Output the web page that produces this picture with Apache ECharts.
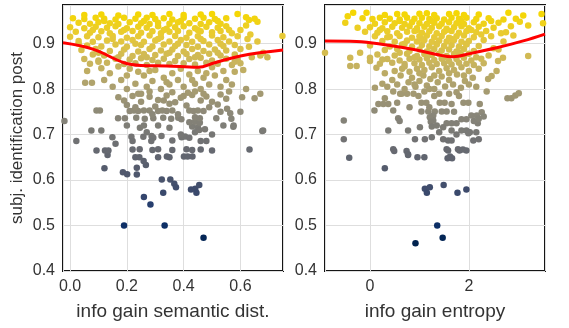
<!DOCTYPE html>
<html>
<head>
<meta charset="utf-8">
<script src="https://cdn.jsdelivr.net/npm/echarts@6/dist/echarts.min.js"></script>
<style>
html,body{margin:0;padding:0;background:#fff;}
#chart{width:569px;height:328px;}
</style>
</head>
<body>
<div id="chart"></div>
<script>
// ---- data ----
const semanticPoints = [
[0.19,0.50],[0.333,0.50],[0.47,0.473],[0.26,0.563],[0.283,0.546],[0.328,0.572],[0.323,0.601],[0.353,0.601],[0.367,0.592],[0.373,0.584],
[0.426,0.579],[0.441,0.581],[0.445,0.572],[0.455,0.589],[0.186,0.617],[0.201,0.613],[0.121,0.626],[0.235,0.612],[0.235,0.627],[0.267,0.633],
[0.259,0.642],[0.23,0.65],[0.244,0.65],[0.31,0.65],[0.341,0.652],[0.35,0.65],[0.401,0.652],[0.414,0.652],[0.431,0.652],[0.132,0.655],
[0.093,0.665],[0.123,0.665],[0.135,0.665],[0.5,0.665],[0.632,0.667],
[0.22,0.667],[0.245,0.668],[0.29,0.666],[0.31,0.668],[0.36,0.666],[0.41,0.668],[0.43,0.666],[0.46,0.667],
[0.022,0.686],[-0.02,0.73],[0.075,0.709],[0.11,0.709],[0.149,0.694],
[0.216,0.695],[0.258,0.695],[0.287,0.697],[0.293,0.693],[0.322,0.697],[0.393,0.694],[0.405,0.696],[0.42,0.693],
[0.22,0.686],[0.286,0.686],[0.36,0.687],[0.46,0.686],[0.48,0.686],[0.677,0.708],
[0.246,0.715],[0.26,0.72],[0.43,0.718],[0.45,0.716],[0.475,0.712],[0.575,0.717],[0.68,0.709],[0.44,0.705],[0.455,0.71],
[0.42,0.727],[0.44,0.728],[0.457,0.726],
[0.169,0.736],[0.193,0.736],[0.233,0.737],[0.263,0.735],[0.293,0.736],[0.328,0.737],[0.356,0.735],[0.381,0.737],[0.392,0.734],[0.44,0.738],
[0.457,0.736],[0.515,0.736],[0.568,0.735],[0.54,0.72],[0.576,0.72],
[0.093,0.753],[0.105,0.753],[0.21,0.752],[0.225,0.753],[0.24,0.752],[0.26,0.753],[0.28,0.753],[0.31,0.752],[0.325,0.753],[0.34,0.752],
[0.36,0.753],[0.42,0.753],[0.435,0.752],[0.45,0.753],[0.47,0.752],[0.553,0.757],[0.564,0.747],
[0.17,0.782],[0.19,0.775],[0.22,0.785],[0.25,0.772],[0.28,0.783],[0.31,0.776],[0.34,0.786],[0.37,0.771],[0.39,0.781],[0.43,0.787],
[0.46,0.775],[0.48,0.784],[0.5,0.772],[0.53,0.788],[0.55,0.779],[0.606,0.782],[0.65,0.78],[0.67,0.79],[0.2,0.765],[0.3,0.762],
[0.35,0.768],[0.41,0.764],[0.52,0.766],[0.24,0.79],[0.36,0.793],[0.44,0.795],
[0.053,0.814],[0.077,0.814],[0.06,0.84],
[0.15,0.805],[0.18,0.82],[0.2,0.80],[0.23,0.812],[0.26,0.83],[0.27,0.805],[0.29,0.818],[0.32,0.8],[0.33,0.825],[0.35,0.81],
[0.38,0.82],[0.4,0.805],[0.42,0.832],[0.44,0.812],[0.46,0.8],[0.47,0.825],[0.49,0.81],[0.51,0.83],[0.53,0.805],[0.55,0.82],
[0.57,0.81],[0.14,0.835],[0.21,0.845],[0.24,0.838],[0.3,0.842],[0.36,0.835],[0.39,0.845],[0.45,0.84],[0.5,0.848],[0.54,0.84],
[0.58,0.838],[0.61,0.842],[0.11,0.846],[0.17,0.85],[0.12,0.82],[0.28,0.795],[0.415,0.792],[0.56,0.795],
[0.07,0.856],[0.13,0.858],[0.19,0.855],[0.23,0.857],[0.27,0.853],[0.31,0.858],[0.35,0.855],[0.4,0.857],[0.44,0.854],[0.48,0.858],[0.52,0.856],[0.57,0.853],[0.6,0.857],
[0.05,0.866],[0.1,0.863],[0.16,0.867],[0.21,0.865],[0.25,0.868],[0.29,0.864],[0.33,0.867],[0.37,0.862],[0.42,0.866],[0.46,0.869],[0.5,0.863],[0.55,0.867],[0.59,0.865],[0.67,0.874],[0.695,0.87],
[0.08,0.876],[0.12,0.874],[0.18,0.878],[0.22,0.873],[0.26,0.877],[0.3,0.875],[0.34,0.878],[0.38,0.873],[0.41,0.877],[0.45,0.875],[0.49,0.878],[0.53,0.874],[0.58,0.876],[0.68,0.88],
[0.04,0.886],[0.09,0.888],[0.14,0.884],[0.19,0.887],[0.24,0.883],[0.28,0.888],[0.32,0.885],[0.36,0.887],[0.4,0.883],[0.43,0.888],[0.47,0.884],[0.51,0.887],[0.55,0.885],[0.6,0.888],
[0.06,0.896],[0.11,0.894],[0.16,0.898],[0.2,0.893],[0.25,0.897],[0.29,0.894],[0.33,0.898],[0.37,0.895],[0.41,0.897],[0.45,0.893],[0.49,0.898],[0.54,0.895],[0.58,0.897],[0.63,0.893],
[0.03,0.906],[0.08,0.904],[0.13,0.907],[0.18,0.905],[0.22,0.908],[0.26,0.904],[0.3,0.907],[0.35,0.905],[0.39,0.908],[0.43,0.904],[0.47,0.906],[0.52,0.908],[0.56,0.905],[0.625,0.91],
[0.06,0.916],[0.1,0.914],[0.15,0.917],[0.2,0.913],[0.24,0.916],[0.28,0.918],[0.32,0.914],[0.37,0.917],[0.41,0.913],[0.45,0.916],[0.5,0.918],[0.54,0.914],[0.59,0.916],[0.635,0.92],[0.748,0.917],
[0.02,0.926],[0.07,0.924],[0.11,0.927],[0.14,0.923],[0.18,0.926],[0.22,0.928],[0.25,0.924],[0.29,0.927],[0.32,0.923],[0.35,0.926],[0.38,0.928],[0.42,0.924],[0.46,0.927],[0.5,0.925],[0.53,0.928],[0.57,0.923],
[0.0,0.936],[0.05,0.934],[0.09,0.937],[0.13,0.935],[0.16,0.938],[0.2,0.934],[0.24,0.937],[0.27,0.935],[0.31,0.938],[0.34,0.933],[0.37,0.936],[0.4,0.938],[0.44,0.934],[0.48,0.937],[0.52,0.935],[0.55,0.938],
[0.03,0.946],[0.07,0.944],[0.1,0.947],[0.14,0.945],[0.17,0.943],[0.21,0.947],[0.25,0.945],[0.28,0.943],[0.31,0.946],[0.35,0.944],[0.38,0.947],[0.42,0.945],[0.46,0.943],[0.49,0.947],[0.53,0.944],[0.63,0.952],[0.66,0.948],
[0.01,0.956],[0.05,0.954],[0.09,0.957],[0.12,0.955],[0.16,0.953],[0.19,0.957],[0.23,0.955],[0.27,0.957],[0.3,0.954],[0.33,0.956],[0.36,0.953],[0.4,0.957],[0.44,0.955],[0.47,0.957],[0.51,0.954],[0.55,0.956],[0.62,0.958],[0.65,0.955],
[0.05,0.963],[0.11,0.964],[0.17,0.962],[0.24,0.964],[0.29,0.963],[0.35,0.965],[0.4,0.963],[0.46,0.964],[0.5,0.965],[0.59,0.965],
[0.08,0.93],[0.12,0.95],[0.19,0.93],[0.26,0.95],[0.33,0.93],[0.39,0.95],[0.45,0.93],[0.52,0.95],[0.56,0.93],[0.15,0.91],
[0.23,0.9],[0.31,0.91],[0.38,0.9],[0.46,0.91],[0.53,0.9],[0.1,0.88],[0.17,0.87],[0.27,0.87],[0.35,0.88],[0.44,0.87],
[0.52,0.88],[0.2,0.83],[0.28,0.84],[0.34,0.815],[0.43,0.82],[0.48,0.835],[0.25,0.79],[0.33,0.775],[0.4,0.785],[0.47,0.79],
[0.23,0.76],[0.29,0.745],[0.38,0.745],[0.49,0.76],[0.31,0.72],[0.35,0.715],[0.39,0.7],[0.27,0.705],[0.2,0.72],[0.16,0.68],
[0.5,0.7],[0.53,0.75],[0.6,0.75],[0.62,0.8],[0.58,0.86],[0.64,0.87],[0.66,0.905],[0.6,0.93],[0.62,0.94],[0.03,0.9],[0.0,0.915],[0.1,0.86]
];

const entropyPoints = [
[0.92,0.461],[1.36,0.50],[1.47,0.473],[1.11,0.581],[1.15,0.572],[1.21,0.584],[1.49,0.589],[1.77,0.572],[1.95,0.579],[0.30,0.626],
[-0.42,0.649],[0.77,0.655],[0.96,0.65],[1.10,0.65],[1.57,0.648],[1.62,0.652],[1.66,0.648],[0.49,0.664],[0.74,0.664],[1.58,0.665],[1.81,0.665],[1.95,0.665],
[-0.53,0.731],[-0.53,0.69],[0.09,0.753],[0.17,0.767],[0.27,0.767],[0.37,0.767],[0.47,0.753],[0.57,0.736],[0.37,0.709],[0.77,0.709],
[0.47,0.668],[0.77,0.657],[0.91,0.69],[1.11,0.69],[1.01,0.716],[1.25,0.694],[1.04,0.751],[1.18,0.751],[1.31,0.751],[1.45,0.751],
[1.55,0.751],[1.28,0.742],[1.28,0.731],[1.55,0.725],[1.65,0.725],[1.75,0.725],[1.85,0.734],[1.95,0.734],[2.05,0.742],[2.16,0.742],
[2.26,0.749],[1.48,0.69],[1.58,0.687],[1.65,0.687],[1.55,0.668],[1.78,0.668],[1.65,0.709],[1.85,0.709],[1.95,0.709],[1.99,0.703],
[2.02,0.705],[2.09,0.687],[2.18,0.725],[2.78,0.78],[2.86,0.78],[2.94,0.786],[3.01,0.791],[2.36,0.795],[2.22,0.767],[1.89,0.77],
[1.99,0.77],[1.65,0.767],[1.75,0.793],[1.04,0.77],[1.14,0.77],[1.41,0.77],[1.51,0.77],[0.61,0.79],[0.75,0.79],[0.88,0.79],
[0.47,0.795],[0.64,0.79],[1.21,0.738],[1.23,0.728],[1.25,0.718],[1.48,0.716],[2.1,0.73],[2.2,0.735],[2.3,0.74],[2.0,0.705],
[2.15,0.705],[2.2,0.69],[1.88,0.667],
[0.1,0.803],[0.25,0.812],[0.35,0.805],[0.45,0.82],[0.55,0.81],[0.62,0.83],[0.7,0.8],[0.78,0.815],[0.85,0.825],[0.92,0.805],
[1.0,0.818],[1.08,0.83],[1.15,0.808],[1.22,0.822],[1.3,0.8],[1.37,0.815],[1.45,0.828],[1.52,0.806],[1.6,0.82],[1.68,0.81],
[1.76,0.832],[1.84,0.803],[1.92,0.818],[2.0,0.81],[2.08,0.825],[2.15,0.805],[2.39,0.822],[2.46,0.829],[0.5,0.84],
[0.65,0.845],[0.8,0.838],[0.95,0.845],[1.1,0.842],[1.25,0.848],[1.4,0.84],[1.55,0.846],[1.7,0.842],[1.85,0.848],[2.0,0.84],
[2.2,0.845],[2.56,0.84],[0.3,0.835],[-0.4,0.851],[-0.27,0.851],[0.13,0.847],[0.0,0.862],[0.0,0.869],[-0.4,0.869],[-0.91,0.88],
[1.1,0.795],[1.3,0.785],[0.98,0.785],[1.6,0.79],
[0.2,0.856],[0.45,0.858],[0.7,0.855],[0.9,0.857],[1.05,0.853],[1.2,0.858],[1.35,0.855],[1.5,0.857],[1.65,0.854],[1.8,0.858],[1.95,0.856],[2.1,0.853],[2.3,0.857],
[0.35,0.866],[0.6,0.863],[0.8,0.867],[1.0,0.865],[1.15,0.868],[1.3,0.864],[1.45,0.867],[1.6,0.862],[1.75,0.866],[1.9,0.869],[2.05,0.863],[2.25,0.867],[2.59,0.862],[2.69,0.869],[3.2,0.873],
[0.15,0.876],[0.5,0.874],[0.75,0.878],[0.95,0.873],[1.1,0.877],[1.25,0.875],[1.4,0.878],[1.55,0.873],[1.7,0.877],[1.85,0.875],[2.0,0.878],[2.4,0.874],
[0.3,0.886],[0.55,0.888],[0.8,0.884],[1.0,0.887],[1.15,0.883],[1.3,0.888],[1.45,0.885],[1.6,0.887],[1.75,0.883],[1.9,0.888],[2.1,0.884],[2.6,0.887],
[0.0,0.896],[0.4,0.894],[0.65,0.898],[0.85,0.893],[1.05,0.897],[1.2,0.894],[1.35,0.898],[1.5,0.895],[1.65,0.897],[1.8,0.893],[1.95,0.898],[2.2,0.895],
[0.25,0.906],[0.5,0.904],[0.75,0.907],[0.95,0.905],[1.1,0.908],[1.25,0.904],[1.4,0.907],[1.55,0.905],[1.7,0.908],[1.85,0.904],[2.0,0.906],[2.3,0.908],[2.7,0.905],
[0.1,0.916],[0.35,0.914],[0.6,0.917],[0.85,0.913],[1.0,0.916],[1.15,0.918],[1.3,0.914],[1.45,0.917],[1.6,0.913],[1.75,0.916],[1.9,0.918],[2.1,0.914],[2.45,0.916],[2.9,0.918],
[-0.1,0.926],[0.15,0.924],[0.35,0.927],[0.55,0.923],[0.75,0.926],[0.9,0.928],[1.05,0.924],[1.2,0.927],[1.35,0.923],[1.5,0.926],[1.65,0.928],[1.8,0.924],[1.95,0.927],[2.15,0.925],[2.35,0.928],[2.65,0.923],
[0.0,0.936],[0.25,0.934],[0.45,0.937],[0.65,0.935],[0.8,0.938],[0.95,0.934],[1.1,0.937],[1.25,0.935],[1.4,0.938],[1.55,0.933],[1.7,0.936],[1.85,0.938],[2.0,0.934],[2.2,0.937],[2.5,0.935],[2.85,0.938],[-0.25,0.935],
[-0.5,0.946],[0.1,0.944],[0.3,0.947],[0.5,0.945],[0.7,0.943],[0.85,0.947],[1.0,0.945],[1.15,0.943],[1.3,0.946],[1.45,0.944],[1.6,0.947],[1.75,0.945],[1.9,0.943],[2.1,0.947],[2.3,0.944],[2.6,0.946],[3.03,0.948],[3.5,0.945],
[-0.15,0.956],[0.05,0.954],[0.2,0.957],[0.4,0.955],[0.6,0.953],[0.75,0.957],[0.9,0.955],[1.05,0.957],[1.2,0.954],[1.35,0.956],[1.5,0.953],[1.65,0.957],[1.8,0.955],[1.95,0.957],[2.15,0.954],[2.4,0.956],[2.7,0.953],[3.1,0.962],
[-0.34,0.968],[-0.07,0.968],[0.3,0.963],[0.7,0.964],[1.0,0.966],[1.3,0.963],[1.6,0.965],[1.9,0.963],[2.2,0.964],[2.8,0.968],[3.47,0.965],
[0.2,0.93],[0.6,0.95],[0.95,0.93],[1.25,0.95],[1.55,0.93],[1.85,0.95],[2.05,0.93],[2.45,0.95],[0.4,0.915],[0.7,0.9],
[1.05,0.91],[1.35,0.9],[1.65,0.91],[1.95,0.9],[2.25,0.92],[0.6,0.88],[0.9,0.87],[1.2,0.88],[1.5,0.87],[1.8,0.88],
[2.15,0.87],[0.7,0.85],[1.0,0.835],[1.3,0.83],[1.6,0.835],[1.9,0.83],[0.9,0.81],[1.2,0.8],[1.4,0.79],[1.8,0.785],
[0.55,0.77],[0.8,0.76],[1.2,0.76],[1.7,0.75],[1.35,0.72],[1.4,0.705],[1.75,0.7],[0.6,0.73],[0.3,0.78],[-0.2,0.88],
[0.25,0.865],[2.5,0.89],[2.75,0.925],[3.2,0.94],[2.95,0.955],[-0.45,0.96],[0.55,0.965],[1.15,0.967],[1.75,0.967]
];

// smoothed trend lines
const semanticTrendX = [-0.025, 0.08, 0.19, 0.25, 0.34, 0.45, 0.51, 0.6, 0.75];
const semanticTrendY = [0.902, 0.888, 0.858, 0.852, 0.851, 0.848, 0.858, 0.873, 0.886];
const entropyTrendX = [-0.91, -0.27, 0.34, 0.94, 1.35, 1.68, 2.02, 2.56, 3.1, 3.54];
const entropyTrendY = [0.906, 0.905, 0.897, 0.886, 0.876, 0.871, 0.878, 0.891, 0.906, 0.921];

const yTitle = 'subj. identification post';
const xTitles = ['info gain semantic dist.', 'info gain entropy'];
const palette = ['#00224e','#123570','#3b496c','#575d6d','#707173','#8a8779','#a89d70','#c8b45e','#e6c83a','#f6d800'];

// ---- chart ----
const chart = echarts.init(document.getElementById('chart'), null, {renderer: 'canvas'});
const font = "'Liberation Sans', Arial, sans-serif";
const textColor = '#333';

function gridDef(left) {
  return {left: left, top: 5, width: 220, height: 266, show: true, borderColor: '#151515', borderWidth: 2, backgroundColor: 'rgba(0,0,0,0)'};
}
function xAxisDef(idx, min, max, splitNumber, fmt) {
  return {
    gridIndex: idx, type: 'value', min: min, max: max, splitNumber: splitNumber,
    axisLine: {show: false}, axisTick: {show: false},
    splitLine: {show: true, lineStyle: {color: '#dedede', width: 1}},
    axisLabel: {showMinLabel: false, showMaxLabel: false, formatter: fmt, fontSize: 16, color: textColor, fontFamily: font, margin: 8},
    name: xTitles[idx], nameLocation: 'middle', nameGap: 31,
    nameTextStyle: {fontSize: 19, color: textColor, fontFamily: font}
  };
}
function yAxisDef(idx, withName) {
  const a = {
    gridIndex: idx, type: 'value', min: 0.4, max: 0.985, interval: 0.1,
    axisLine: {show: false}, axisTick: {show: false},
    splitLine: {show: true, lineStyle: {color: '#dedede', width: 1}},
    axisLabel: {showMaxLabel: false, formatter: v => v.toFixed(1), fontSize: 16, color: textColor, fontFamily: font, margin: 8}
  };
  if (withName) {
    a.name = yTitle; a.nameLocation = 'middle'; a.nameGap = 37;
    a.nameTextStyle = {fontSize: 17, color: textColor, fontFamily: font};
  }
  return a;
}
function zip(xs, ys) { return xs.map((x, i) => [x, ys[i]]); }

chart.setOption({
  animation: false,
  backgroundColor: '#fff',
  grid: [gridDef(63), gridDef(325)],
  xAxis: [
    xAxisDef(0, -0.025, 0.75, 5, v => v.toFixed(1)),
    xAxisDef(1, -0.91, 3.54, 2, v => String(Math.round(v)))
  ],
  yAxis: [yAxisDef(0, true), yAxisDef(1, false)],
  visualMap: {
    type: 'continuous', show: false, dimension: 1, min: 0.46, max: 0.97,
    seriesIndex: [0, 1], inRange: {color: palette}
  },
  series: [
    {type: 'scatter', xAxisIndex: 0, yAxisIndex: 0, data: semanticPoints, symbolSize: 6.5, itemStyle: {opacity: 1}},
    {type: 'scatter', xAxisIndex: 1, yAxisIndex: 1, data: entropyPoints, symbolSize: 6.5, itemStyle: {opacity: 1}},
    {type: 'line', xAxisIndex: 0, yAxisIndex: 0, data: zip(semanticTrendX, semanticTrendY), smooth: 0.4, symbol: 'none', lineStyle: {color: '#ff0000', width: 3}, z: 5},
    {type: 'line', xAxisIndex: 1, yAxisIndex: 1, data: zip(entropyTrendX, entropyTrendY), smooth: 0.4, symbol: 'none', lineStyle: {color: '#ff0000', width: 3}, z: 5}
  ]
});
</script>
</body>
</html>
